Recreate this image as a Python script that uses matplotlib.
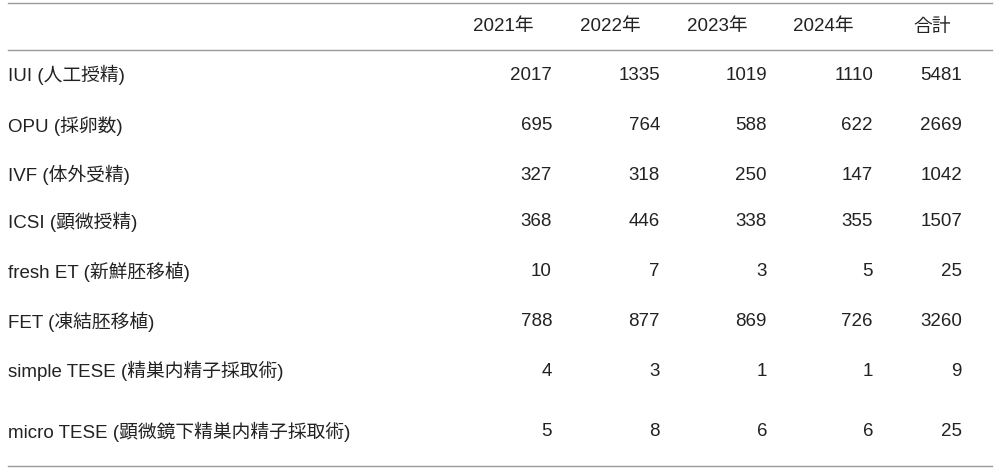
import matplotlib.pyplot as plt

plt.rcParams["font.family"] = ["Liberation Sans", "Noto Sans CJK JP"]

# Table data
columns = ["2021年", "2022年", "2023年", "2024年", "合計"]
procedures = [
    "IUI (人工授精)",
    "OPU (採卵数)",
    "IVF (体外受精)",
    "ICSI (顕微授精)",
    "fresh ET (新鮮胚移植)",
    "FET (凍結胚移植)",
    "simple TESE (精巣内精子採取術)",
    "micro TESE (顕微鏡下精巣内精子採取術)",
]
y2021 = [2017, 695, 327, 368, 10, 788, 4, 5]
y2022 = [1335, 764, 318, 446, 7, 877, 3, 8]
y2023 = [1019, 588, 250, 338, 3, 869, 1, 6]
y2024 = [1110, 622, 147, 355, 5, 726, 1, 6]
totals = [5481, 2669, 1042, 1507, 25, 3260, 9, 25]

# layout in pixel coordinates
row_y = [75, 126, 175, 222, 272, 322, 371, 432]
header_x = [503, 610, 717, 823, 932]
value_x = [552, 660, 767, 873, 962]

fig = plt.figure(figsize=(10, 4.69), dpi=100)
ax = fig.add_axes([0, 0, 1, 1])
ax.set_xlim(0, 1000)
ax.set_ylim(469, 0)
ax.axis("off")

fs = 13.5
for x, c in zip(header_x, columns):
    ax.text(x, 27, c, ha="center", va="center", fontsize=fs, color="#222222")

for x0, x1, y in [(8, 992, 3), (8, 992, 50), (8, 992, 466)]:
    ax.plot([x0, x1], [y, y], color="#999999", lw=1)

series = [y2021, y2022, y2023, y2024, totals]
for i, name in enumerate(procedures):
    y = row_y[i]
    ax.text(8, y, name, ha="left", va="center", fontsize=fs, color="#222222")
    for x, s in zip(value_x, series):
        ax.text(x, y, str(s[i]), ha="right", va="center", fontsize=fs, color="#222222")

fig.savefig("out.png", dpi=100)
